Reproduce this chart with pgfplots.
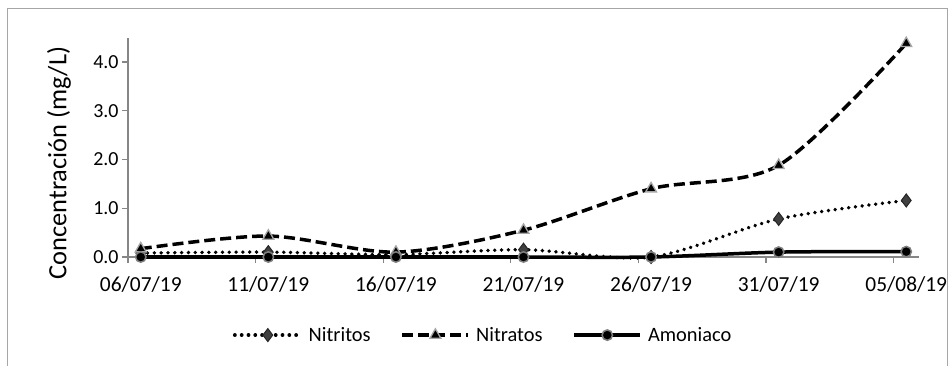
\documentclass[border=0pt]{standalone}
\usepackage{pgfplots}
\pgfplotsset{compat=1.18}
\usepackage{pgfplotstable}
\usepackage{fontspec}
\setmainfont{Carlito}

\definecolor{axisgray}{HTML}{868686}
\definecolor{framegray}{HTML}{A6A6A6}
\definecolor{markgray}{HTML}{A6A6A6}
\definecolor{diamondfill}{HTML}{404040}

% days since 06/07/19; samples taken every 5 days
\pgfplotstableread{
x    nitritos nitratos amoniaco
0.5  0.08     0.17     0.00
5.5  0.10     0.43     0.00
10.5 0.05     0.10     0.00
15.5 0.15     0.55     0.00
20.5 0.00     1.40     0.00
25.5 0.78     1.88     0.10
30.5 1.16     4.38     0.11
}\datatable

\begin{document}
\begin{tikzpicture}
\begin{axis}[
  at={(128bp,109bp)}, anchor=south west,
  scale only axis, width=791bp, height=219.4bp,
  xmin=0, xmax=31, ymin=0, ymax=4.5,
  axis lines*=left,
  axis line style={axisgray, line width=1.3bp},
  /pgf/number format/assume math mode=true,
  tick label style={text=black},
  ytick={0,1,2,3,4},
  yticklabels={0.0,1.0,2.0,3.0,4.0},
  ytick style={axisgray, line width=1.3bp},
  tick align=outside, major tick length=6bp,
  yticklabel style={font=\fontsize{20}{24}\selectfont},
  xtick={0.5,5.5,...,30.5},
  xticklabels={06/07/19,11/07/19,16/07/19,21/07/19,26/07/19,31/07/19,05/08/19},
  xtick style={draw=none},
  xticklabel style={font=\fontsize{21.5}{25}\selectfont, yshift=-10bp},
  extra x ticks={0,5,...,30},
  extra x tick labels={},
  extra x tick style={xtick style={draw=axisgray, line width=1.3bp}},
  ylabel={Concentración (mg/L)},
  ylabel style={font=\fontsize{26.5}{30}\selectfont,
    at={(axis description cs:-0.0872,0.428)}, anchor=center},
  legend columns=3,
  legend style={draw=none, at={(0.449,-0.356)}, anchor=center,
    font=\fontsize{20.5}{24}\selectfont,
    /tikz/every odd column/.append style={column sep=4bp},
    /tikz/every even column/.append style={column sep=28bp}},
  legend image code/.code={
    \draw[mark repeat=2, mark phase=2, #1]
      plot coordinates {(0bp,0bp) (33bp,0bp) (66bp,0bp)};},
  clip=false,
]
\addplot[black, smooth, line width=3.8bp, line cap=round,
  dash pattern=on 0.01bp off 6.8bp,
  mark=diamond*, mark size=6.5bp,
  mark options={solid, fill=diamondfill, draw=black!85, line width=1bp}]
  table[x=x, y=nitritos] {\datatable};
\addlegendentry{Nitritos}
\addplot[black, smooth, line width=3.5bp,
  dash pattern=on 11bp off 5bp,
  mark=triangle*, mark size=6.3bp,
  mark options={solid, fill=black, draw=markgray, line width=1.3bp}]
  table[x=x, y=nitratos] {\datatable};
\addlegendentry{Nitratos}
\addplot[black, smooth, line width=3.5bp,
  mark=*, mark size=5.2bp,
  mark options={solid, fill=black, draw=gray, line width=1.5bp}]
  table[x=x, y=amoniaco] {\datatable};
\addlegendentry{Amoniaco}
\end{axis}
% chart area frame, open at the bottom edge of the page
\draw[framegray, line width=1bp] (7bp,-10bp) rectangle (947bp,357bp);
\pgfresetboundingbox
\path[use as bounding box] (0bp,0bp) rectangle (949bp,366bp);
\end{tikzpicture}
\end{document}
